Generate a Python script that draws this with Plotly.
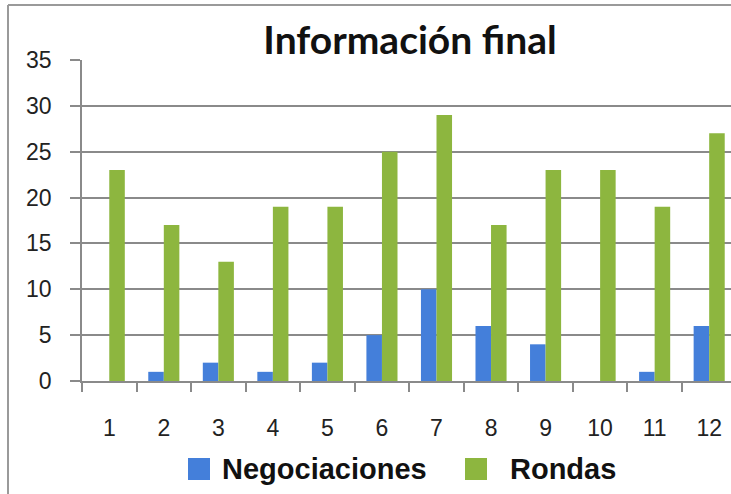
import plotly.graph_objects as go

categories = ["1", "2", "3", "4", "5", "6", "7", "8", "9", "10", "11", "12"]
negociaciones = [0, 1, 2, 1, 2, 5, 10, 6, 4, 0, 1, 6]
rondas = [23, 17, 13, 19, 19, 25, 29, 17, 23, 23, 19, 27]
series_names = ["Negociaciones", "Rondas"]
y_ticks = [0, 5, 10, 15, 20, 25, 30, 35]
title_text = "Información final"

BLUE = "#447FDA"
GREEN = "#8DB63F"
GRID = "#8A8A8A"

W, H = 731, 494
L, R, T, B = 82, 0, 60, 113
PW = W - L - R
PH = H - T - B


def px_x(x):
    return (x - L) / PW


def px_y(y):
    return (H - B - y) / PH


fig = go.Figure()
fig.add_trace(go.Bar(x=categories, y=negociaciones, name=series_names[0],
                     marker=dict(color=BLUE, line=dict(width=0)), showlegend=False))
fig.add_trace(go.Bar(x=categories, y=rondas, name=series_names[1],
                     marker=dict(color=GREEN, line=dict(width=0)), showlegend=False))

shapes = []
# outer chart border (left and top visible)
shapes.append(dict(type="line", xref="paper", yref="paper",
                   x0=px_x(8), x1=px_x(8), y0=px_y(H + 5), y1=px_y(5),
                   line=dict(color="#9A9A9A", width=2)))
shapes.append(dict(type="line", xref="paper", yref="paper",
                   x0=px_x(8), x1=px_x(W + 5), y0=px_y(5), y1=px_y(5),
                   line=dict(color="#9A9A9A", width=2)))

# legend squares
legend_items = [(series_names[0], BLUE, 188, 220), (series_names[1], GREEN, 465, 508)]
annotations = []
for name, col, sx, tx in legend_items:
    shapes.append(dict(type="rect", xref="paper", yref="paper",
                       x0=px_x(sx), x1=px_x(sx + 22), y0=px_y(480), y1=px_y(458),
                       fillcolor=col, line=dict(width=0)))
    annotations.append(dict(text=name, xref="paper", yref="paper",
                            x=px_x(tx), y=px_y(469), xanchor="left", yanchor="middle",
                            showarrow=False,
                            font=dict(family="Liberation Sans", size=29, color="#111111",
                                      weight="bold")))

fig.update_layout(
    width=W, height=H,
    margin=dict(l=L, r=R, t=T, b=B, pad=0),
    paper_bgcolor="white", plot_bgcolor="white",
    barmode="group", bargap=0.43, bargroupgap=0,
    title=dict(text="<b>" + title_text + "</b>", x=410 / W, xref="container",
               xanchor="center", y=1 - 40 / H, yref="container", yanchor="middle",
               font=dict(family="Lato", size=39, color="#111111")),
    xaxis=dict(type="category", range=[-0.5, 11.4], showgrid=False,
               showline=True, linecolor=GRID, linewidth=1.5,
               ticks="outside", tickson="boundaries", ticklen=9, tickcolor=GRID,
               tickwidth=1.5, ticklabelstandoff=26,
               tickfont=dict(family="Liberation Sans", size=23, color="#222222")),
    yaxis=dict(range=[0, 35], tickvals=y_ticks, showgrid=True, gridcolor=GRID,
               gridwidth=1.5, showline=True, linecolor=GRID, linewidth=1.5,
               ticks="outside", ticklen=10, tickcolor=GRID, tickwidth=1.5,
               ticklabelstandoff=14, zeroline=False,
               tickfont=dict(family="Liberation Sans", size=23, color="#222222")),
    shapes=shapes,
    annotations=annotations,
)

fig.write_html("out.html", config={"displayModeBar": False},
               post_script="document.body.style.margin='0';document.body.style.overflow='hidden';")
